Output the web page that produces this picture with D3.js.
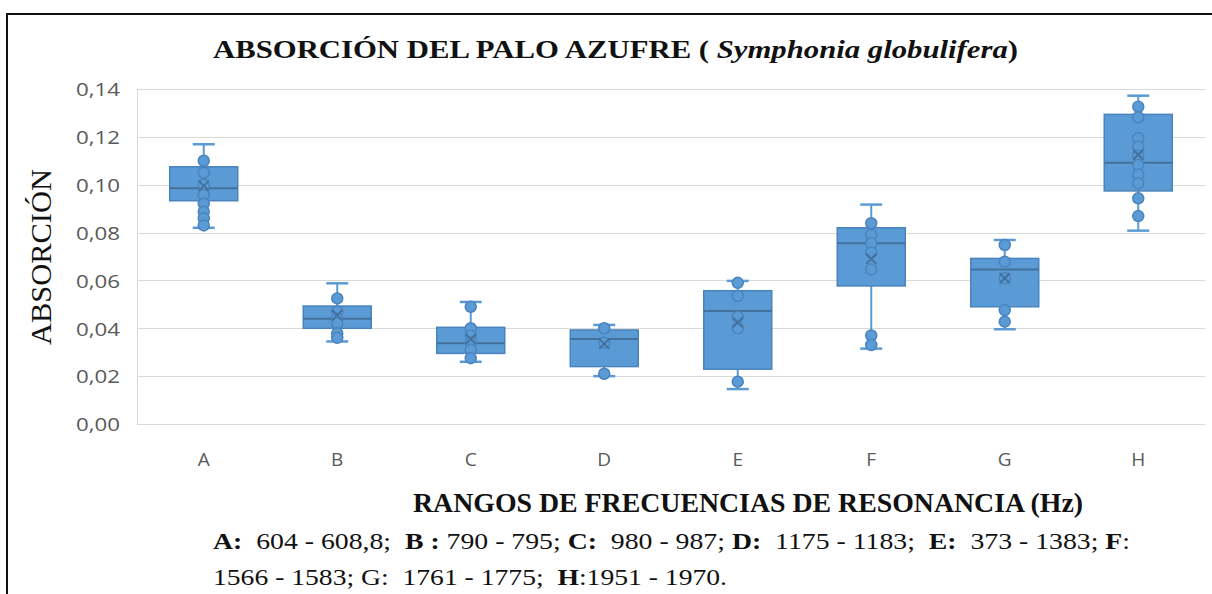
<!DOCTYPE html>
<html>
<head>
<meta charset="utf-8">
<script src="https://cdn.jsdelivr.net/npm/d3@7"></script>
<style>
  html, body { margin: 0; padding: 0; background: #fff; }
  svg { display: block; }
</style>
</head>
<body>
<svg id="chart" width="1212" height="594"></svg>
<script>
// Frequency-range groups
const categories = ["A", "B", "C", "D", "E", "F", "G", "H"];

// Box statistics per group (absorption coefficient)
const whiskerLow  = [0.0820, 0.0345, 0.0260, 0.0200, 0.0146, 0.0315, 0.0396, 0.0808];
const quartile1   = [0.0933, 0.0400, 0.0295, 0.0240, 0.0229, 0.0577, 0.0490, 0.0974];
const medians     = [0.0985, 0.0440, 0.0337, 0.0355, 0.0472, 0.0755, 0.0646, 0.1092];
const quartile3   = [0.1075, 0.0493, 0.0404, 0.0393, 0.0557, 0.0820, 0.0692, 0.1294];
const whiskerHigh = [0.1169, 0.0588, 0.0510, 0.0414, 0.0598, 0.0917, 0.0769, 0.1372];
const means       = [0.0995, 0.0455, 0.0355, 0.0335, 0.0425, 0.0690, 0.0609, 0.1125];

// Individual measurements shown as markers
const pointsA = [0.1100, 0.1050, 0.1000, 0.0957, 0.0920, 0.0887, 0.0860, 0.0830];
const pointsB = [0.0525, 0.0470, 0.0440, 0.0420, 0.0379, 0.0360];
const pointsC = [0.0490, 0.0400, 0.0370, 0.0340, 0.0310, 0.0275];
const pointsD = [0.0400, 0.0340, 0.0210];
const pointsE = [0.0590, 0.0535, 0.0448, 0.0400, 0.0177];
const pointsF = [0.0839, 0.0790, 0.0755, 0.0716, 0.0646, 0.0370, 0.0330];
const pointsG = [0.0748, 0.0678, 0.0609, 0.0476, 0.0428];
const pointsH = [0.1326, 0.1282, 0.1194, 0.1159, 0.1121, 0.1082, 0.1043, 0.1006, 0.0943, 0.0869];
const points = [pointsA, pointsB, pointsC, pointsD, pointsE, pointsF, pointsG, pointsH];

const yTicks = [0, 0.02, 0.04, 0.06, 0.08, 0.10, 0.12, 0.14];

const svg = d3.select("#chart");
const fmt = v => d3.format(".2f")(v).replace(".", ",");

const x = d3.scaleBand().domain(categories).range([137, 1205]).paddingInner(0).paddingOuter(0);
const y = d3.scaleLinear().domain([0, 0.14]).range([424, 89]);

const BLUE = "#5b9bd5";
const EDGE = "#4a83bd";
const DARK = "#41719c";
const SANS = "'Open Sans', 'Noto Sans', sans-serif";
const SERIF = "'Liberation Serif', 'Times New Roman', serif";

// Outer frame
svg.append("path")
  .attr("d", "M7,594 V14 H1212")
  .attr("fill", "none").attr("stroke", "#111").attr("stroke-width", 2);

// Gridlines
svg.append("g").selectAll("line").data(yTicks).join("line")
  .attr("x1", 137).attr("x2", 1205)
  .attr("y1", d => Math.round(y(d)) + 0.5).attr("y2", d => Math.round(y(d)) + 0.5)
  .attr("stroke", "#d9d9d9").attr("stroke-width", 1);

// Vertical axis line
svg.append("line")
  .attr("x1", 137.5).attr("x2", 137.5).attr("y1", y(0.14)).attr("y2", y(0) + 0.5)
  .attr("stroke", "#d9d9d9");

// Y tick labels
const yAxis = d3.axisLeft(y).tickValues(yTicks).tickFormat(fmt).tickSize(0).tickPadding(17);
const gy = svg.append("g").attr("transform", "translate(137,0)").call(yAxis);
gy.select(".domain").remove();
gy.selectAll("text")
  .attr("font-family", SANS)
  .attr("font-size", 19).attr("fill", "#595959").attr("dy", "0.36em")
  .attr("textLength", 44).attr("lengthAdjust", "spacingAndGlyphs");

// X tick labels
const xAxis = d3.axisBottom(x).tickSize(0).tickPadding(29);
const gx = svg.append("g").attr("transform", "translate(0,424)").call(xAxis);
gx.select(".domain").remove();
gx.selectAll("text")
  .attr("font-family", SANS)
  .attr("font-size", 19).attr("fill", "#595959");

// Box plots
const boxW = 68, capW = 22;
const groups = svg.append("g").selectAll("g").data(categories).join("g")
  .attr("transform", d => `translate(${x(d) + x.bandwidth() / 2},0)`);

// Whiskers
groups.append("line")
  .attr("x1", 0).attr("x2", 0)
  .attr("y1", (d, i) => y(whiskerHigh[i])).attr("y2", (d, i) => y(whiskerLow[i]))
  .attr("stroke", BLUE).attr("stroke-width", 2);
groups.append("line")
  .attr("x1", -capW / 2).attr("x2", capW / 2)
  .attr("y1", (d, i) => y(whiskerHigh[i])).attr("y2", (d, i) => y(whiskerHigh[i]))
  .attr("stroke", BLUE).attr("stroke-width", 2.5);
groups.append("line")
  .attr("x1", -capW / 2).attr("x2", capW / 2)
  .attr("y1", (d, i) => y(whiskerLow[i])).attr("y2", (d, i) => y(whiskerLow[i]))
  .attr("stroke", BLUE).attr("stroke-width", 2.5);

// Boxes
groups.append("rect")
  .attr("x", -boxW / 2).attr("width", boxW)
  .attr("y", (d, i) => y(quartile3[i]))
  .attr("height", (d, i) => y(quartile1[i]) - y(quartile3[i]))
  .attr("fill", BLUE).attr("stroke", EDGE).attr("stroke-width", 1.5);

// Medians
groups.append("line")
  .attr("x1", -boxW / 2).attr("x2", boxW / 2)
  .attr("y1", (d, i) => y(medians[i])).attr("y2", (d, i) => y(medians[i]))
  .attr("stroke", DARK).attr("stroke-width", 2);

// Data points
groups.each(function (d, i) {
  d3.select(this).selectAll("circle").data(points[i]).join("circle")
    .attr("cx", 0).attr("cy", v => y(v)).attr("r", 5.5)
    .attr("fill", BLUE).attr("stroke", EDGE).attr("stroke-width", 1.5);
});

// Mean markers
const mk = 5;
groups.append("path")
  .attr("d", (d, i) => {
    const cy = y(means[i]);
    return `M${-mk},${cy - mk}L${mk},${cy + mk}M${mk},${cy - mk}L${-mk},${cy + mk}`;
  })
  .attr("stroke", DARK).attr("stroke-width", 2).attr("fill", "none");

// Chart title
const title = svg.append("text")
  .attr("x", 213).attr("y", 58)
  .attr("textLength", 805).attr("lengthAdjust", "spacingAndGlyphs")
  .attr("font-family", SERIF)
  .attr("font-size", 26).attr("font-weight", "bold").attr("fill", "#111");
title.append("tspan").text("ABSORCIÓN DEL PALO AZUFRE ( ");
title.append("tspan").attr("font-style", "italic").text("Symphonia globulifera");
title.append("tspan").text(")");

// Y axis title
svg.append("text")
  .attr("transform", "translate(51,257) rotate(-90)")
  .attr("text-anchor", "middle")
  .attr("textLength", 176).attr("lengthAdjust", "spacingAndGlyphs")
  .attr("font-family", SERIF)
  .attr("font-size", 29).attr("fill", "#111")
  .text("ABSORCIÓN");

// X axis title
svg.append("text")
  .attr("x", 413).attr("y", 512)
  .attr("textLength", 670).attr("lengthAdjust", "spacingAndGlyphs")
  .attr("font-family", SERIF)
  .attr("font-size", 27).attr("font-weight", "bold").attr("fill", "#111")
  .text("RANGOS DE FRECUENCIAS DE RESONANCIA (Hz)");

// Range key
const line1 = [
  ["A:", true], ["  604 - 608,8;  ", false], ["B :", true], [" 790 - 795; ", false],
  ["C:", true], ["  980 - 987; ", false], ["D:", true], ["  1175 - 1183;  ", false],
  ["E:", true], ["  373 - 1383; ", false], ["F", true], [":", false]
];
const line2 = [
  ["1566 - 1583; G:  1761 - 1775;  ", false], ["H", true], [":1951 - 1970.", false]
];
function keyLine(parts, yPos, len) {
  const t = svg.append("text")
    .attr("x", 213).attr("y", yPos)
    .attr("textLength", len).attr("lengthAdjust", "spacingAndGlyphs")
    .attr("font-family", SERIF).attr("font-size", 24).attr("fill", "#111")
    .style("white-space", "pre");
  parts.forEach(([s, b]) => t.append("tspan").attr("font-weight", b ? "bold" : "normal").text(s));
}
keyLine(line1, 549, 917);
keyLine(line2, 585, 514);
</script>
</body>
</html>
